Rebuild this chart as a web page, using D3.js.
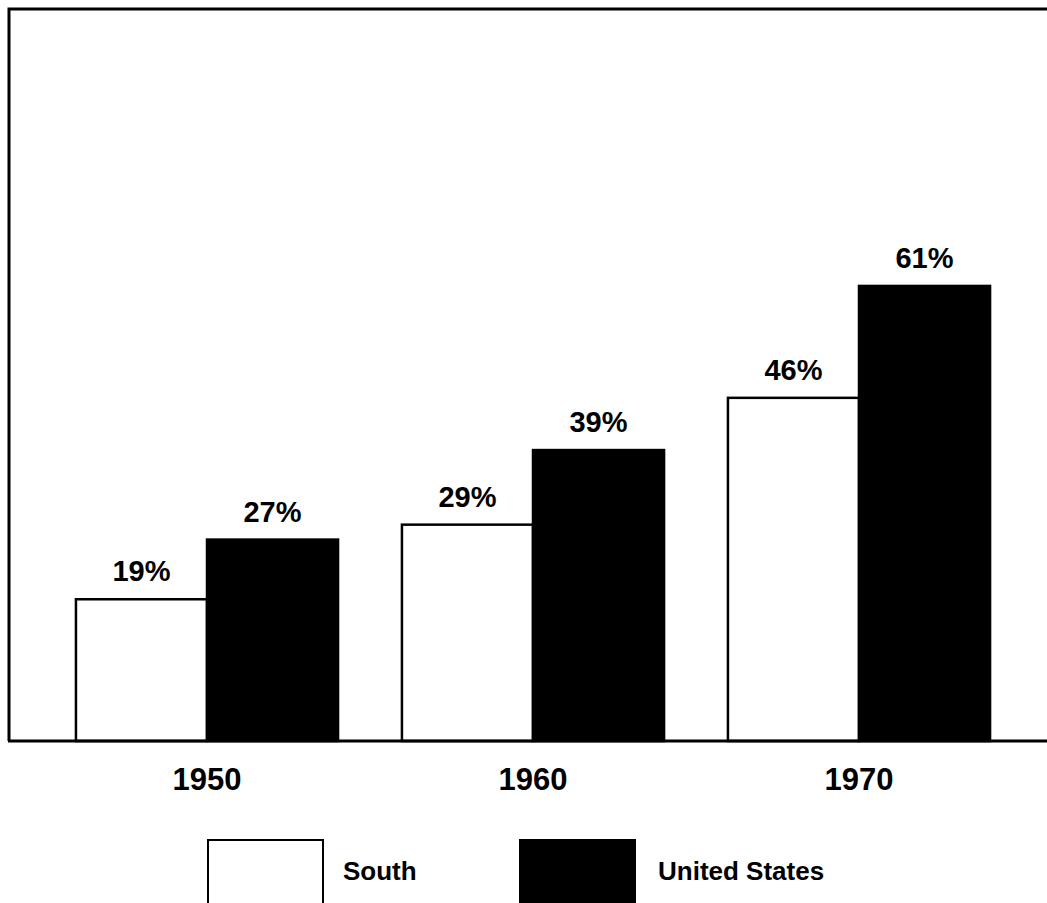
<!DOCTYPE html>
<html>
<head>
<meta charset="utf-8">
<script src="https://cdn.jsdelivr.net/npm/d3@7"></script>
<style>
  body { margin: 0; background: #fff; }
  svg { display: block; }
  text { font-family: "Liberation Sans", Arial, Helvetica, sans-serif; font-weight: bold; fill: #000; }
</style>
</head>
<body>
<script>
const years = ["1950", "1960", "1970"];
const seriesNames = ["South", "United States"];
const southValues = [19, 29, 46];
const usValues = [27, 39, 61];
const valueLabels = [["19%", "27%"], ["29%", "39%"], ["46%", "61%"]];

const W = 1047, H = 903;
const svg = d3.select("body").append("svg").attr("width", W).attr("height", H);

const baseY = 741;
const x0 = d3.scaleBand().domain(years).range([44, 1022]).paddingInner(0.196).paddingOuter(0.098);
const x1 = d3.scaleBand().domain(seriesNames).range([0, x0.bandwidth()]).padding(0);
const y = d3.scaleLinear().domain([0, 100]).range([baseY, -5]);
const color = d3.scaleOrdinal().domain(seriesNames).range(["#fff", "#000"]);

// frame: left and top
svg.append("path")
  .attr("d", `M9,${baseY} L9,9 L${W},9`)
  .attr("fill", "none").attr("stroke", "#000").attr("stroke-width", 3);

const data = years.map((yr, i) => ({
  year: yr,
  vals: [
    { s: "South", v: southValues[i], label: valueLabels[i][0] },
    { s: "United States", v: usValues[i], label: valueLabels[i][1] }
  ]
}));

const g = svg.selectAll("g.grp").data(data).join("g")
  .attr("class", "grp")
  .attr("transform", d => `translate(${x0(d.year)},0)`);

g.selectAll("rect").data(d => d.vals).join("rect")
  .attr("x", d => x1(d.s))
  .attr("y", d => y(d.v))
  .attr("width", x1.bandwidth())
  .attr("height", d => baseY - y(d.v))
  .attr("fill", d => color(d.s))
  .attr("stroke", "#000")
  .attr("stroke-width", 2.5);

g.selectAll("text.val").data(d => d.vals).join("text")
  .attr("class", "val")
  .attr("x", d => x1(d.s) + x1.bandwidth() / 2)
  .attr("y", d => y(d.v) - 18)
  .attr("text-anchor", "middle")
  .attr("font-size", 29)
  .text(d => d.label);

// x axis labels
const xAxis = d3.axisBottom(x0).tickSize(0).tickPadding(49);
const ax = svg.append("g").attr("transform", `translate(0,${baseY})`).call(xAxis);
ax.select(".domain").remove();
ax.attr("font-size", null).attr("font-family", null);
ax.selectAll("text")
  .attr("dy", 0)
  .attr("font-size", 31)
  .style("font-family", '"Liberation Sans", Arial, sans-serif')
  .style("font-weight", "bold");
svg.append("line").attr("x1", 8).attr("x2", W).attr("y1", baseY).attr("y2", baseY)
  .attr("stroke", "#000").attr("stroke-width", 3);

// legend
const legendX = [208, 520];
const lg = svg.selectAll("g.leg").data(seriesNames).join("g")
  .attr("class", "leg")
  .attr("transform", (d, i) => `translate(${legendX[i]},840)`);
lg.append("rect").attr("width", 115).attr("height", 75)
  .attr("fill", d => color(d)).attr("stroke", "#000").attr("stroke-width", 2);
lg.append("text").attr("x", d => d === "South" ? 135 : 138).attr("y", 40)
  .attr("font-size", 26).text(d => d);
</script>
</body>
</html>
